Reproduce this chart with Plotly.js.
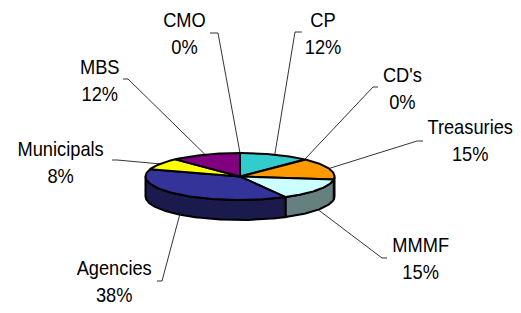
<!DOCTYPE html>
<html>
<head>
<meta charset="utf-8">
<script src="https://cdn.plot.ly/plotly-3.0.1.min.js"></script>
<style>html,body{margin:0;padding:0;background:#fff;}#chart{width:521px;height:313px;}</style>
</head>
<body>
<div id="chart"></div>
<script>
// ---- data ----
var categories = ["CP", "CD's", "Treasuries", "MMMF", "Agencies", "Municipals", "MBS", "CMO"];
var values = [12, 0, 15, 15, 38, 8, 12, 0];
var pctLabels = ["12%", "0%", "15%", "15%", "38%", "8%", "12%", "0%"];

// ---- style ----
var colors = ["#33CCCC", "#9999FF", "#FF9900", "#CCFFFF", "#333399", "#FFFF00", "#800080", "#FF8080"];
// label block centres and leader elbow starts (layout only)
var labelPos = [[323, 32.5], [402, 87.5], [470, 140], [420, 257.5], [114, 281], [60, 161.5], [100, 79.5], [184, 33]];
var elbowPos = [[[302, 32], [295, 32]], [[378, 87], [373, 87]], [[423, 141], [417, 141]], [[387, 258], [382, 258]],
                [[157, 281], [162, 281]], [[112, 160], [117, 160]], [[123, 79], [128, 79]], [[210, 33], [218, 33]]];

var cx = 240, cy = 176.5, rx = 94.5, ry = 23.5, depth = 20;
var FONT = {family: "Liberation Sans, Arial, sans-serif", size: 21, color: "#000"};
var TEXT_SQUEEZE = 0.87; // narrow (Arial Narrow-like) labels

function darker(hex, f) {
  var n = parseInt(hex.slice(1), 16);
  var r = Math.round(((n >> 16) & 255) * f), g = Math.round(((n >> 8) & 255) * f), b = Math.round((n & 255) * f);
  return "rgb(" + r + "," + g + "," + b + ")";
}
function pt(deg, dy) {
  var t = deg * Math.PI / 180;
  return [cx + rx * Math.sin(t), cy - ry * Math.cos(t) + (dy || 0)];
}
function arc(a1, a2, dy) {
  var pts = [], n = Math.max(2, Math.ceil(Math.abs(a2 - a1)));
  for (var i = 0; i <= n; i++) pts.push(pt(a1 + (a2 - a1) * i / n, dy));
  return pts;
}
function poly(pts, fill) {
  return {
    type: "scatter", mode: "lines", fill: "toself", fillcolor: fill,
    x: pts.map(function (p) { return p[0]; }), y: pts.map(function (p) { return p[1]; }),
    line: {color: "#000", width: 2}, hoverinfo: "skip", showlegend: false
  };
}

var total = values.reduce(function (a, b) { return a + b; }, 0);
var starts = [], acc = 0;
values.forEach(function (v) { starts.push(acc / total * 360); acc += v; });

var sides = [], tops = [], leaders = [], annotations = [];
values.forEach(function (v, i) {
  var a1 = starts[i], a2 = a1 + v / total * 360;
  if (v > 0) {
    var s1 = Math.max(a1, 90), s2 = Math.min(a2, 270);
    if (s2 > s1) {
      var side = arc(s1, s2, 0).concat(arc(s2, s1, depth));
      side.push(side[0]);
      sides.push(poly(side, darker(colors[i], 0.5)));
    }
    var top = [[cx, cy]].concat(arc(a1, a2, 0));
    top.push([cx, cy]);
    tops.push(poly(top, colors[i]));
  }
  var mid = (a1 + a2) / 2;
  var anchor = (mid > 90 && mid < 270) ? pt(mid, depth) : pt(mid, 0);
  var lp = [elbowPos[i][0], elbowPos[i][1], anchor];
  leaders.push({
    type: "scatter", mode: "lines",
    x: lp.map(function (p) { return p[0]; }), y: lp.map(function (p) { return p[1]; }),
    line: {color: "#000", width: 0.8}, hoverinfo: "skip", showlegend: false
  });
  annotations.push({
    x: labelPos[i][0], y: labelPos[i][1], xref: "x", yref: "y",
    text: categories[i] + "<br>" + pctLabels[i], showarrow: false,
    xanchor: "center", yanchor: "middle", align: "center", font: FONT
  });
});

var layout = {
  width: 521, height: 313,
  margin: {l: 0, r: 0, t: 0, b: 0, pad: 0},
  paper_bgcolor: "#fff", plot_bgcolor: "#fff",
  xaxis: {range: [0, 521], visible: false, fixedrange: true},
  yaxis: {range: [313, 0], visible: false, fixedrange: true},
  showlegend: false,
  annotations: annotations
};

Plotly.newPlot("chart", leaders.concat(sides, tops), layout, {displayModeBar: false, staticPlot: true}).then(function (gd) {
  gd.querySelectorAll(".annotation-text").forEach(function (el) {
    var b = el.getBBox();
    var c = b.x + b.width / 2;
    var t = el.getAttribute("transform") || "";
    el.setAttribute("transform", t + " translate(" + c + ",0) scale(" + TEXT_SQUEEZE + ",1) translate(" + (-c) + ",0)");
  });
});
</script>
</body>
</html>
